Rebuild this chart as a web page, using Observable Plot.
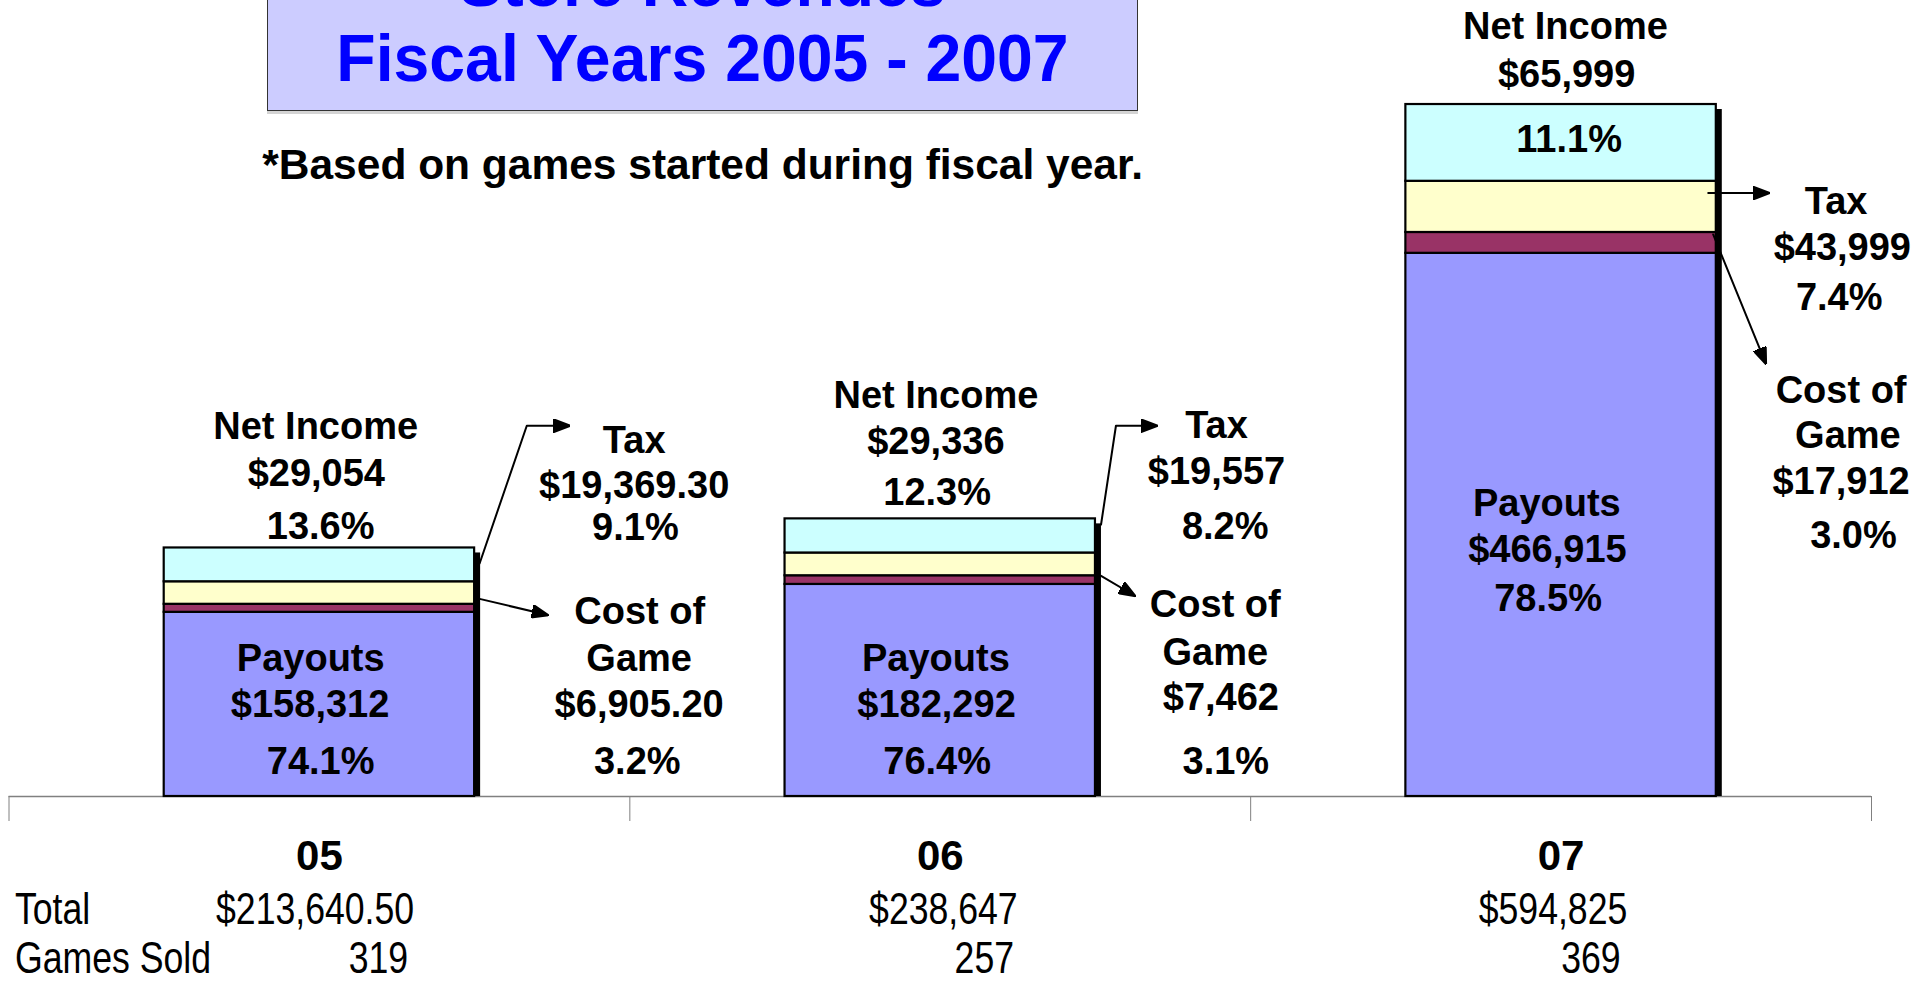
<!DOCTYPE html>
<html>
<head>
<meta charset="utf-8">
<script src="https://cdn.jsdelivr.net/npm/d3@7"></script>
<script src="https://cdn.jsdelivr.net/npm/@observablehq/plot@0.6"></script>
<style>
  html, body { margin: 0; padding: 0; background: #fff; overflow: hidden; }
  #wrap { position: relative; width: 1911px; height: 982px; overflow: hidden; font-family: "Liberation Sans", Arial, sans-serif; }
  #chart { position: absolute; left: 0; top: 0; }
  #titlebox { position: absolute; left: 267px; top: -20px; width: 871px; height: 131px; box-sizing: border-box;
    background: #ccccff; border: 1.5px solid #333; box-shadow: 0 3px 0 #d4d4d4; }
  #title { position: absolute; left: 267px; width: 871px; top: -54px; text-align: center; color: #0000ff;
    font-weight: bold; font-size: 66px; line-height: 75px; transform: scaleX(0.975); transform-origin: 50% 50%; white-space: nowrap; }
  #subtitle { position: absolute; left: 257px; width: 880px; top: 139px; text-align: center; color: #000;
    font-weight: bold; font-size: 43px; line-height: 50px; transform: scaleX(0.988); transform-origin: 50% 50%; white-space: nowrap; }
</style>
</head>
<body>
<div id="wrap">
  <div id="chart"></div>
  <div id="titlebox"></div>
  <div id="title">Store Revenues<br>Fiscal Years 2005 - 2007</div>
  <div id="subtitle">*Based on games started during fiscal year.</div>
</div>
<script>
// ---------- data ----------
const years = ["05", "06", "07"];
const series = ["Payouts", "Cost of Game", "Tax", "Net Income"];
const payouts = [158312, 182292, 466915];
const costOfGame = [6905.20, 7462, 17912];
const tax = [19369.30, 19557, 43999];
const netIncome = [29054, 29336, 65999];
const totals = [213640.50, 238647, 594825];
const gamesSold = [319, 257, 369];
const seriesColors = ["#9999ff", "#993366", "#ffffcc", "#ccffff"];
const rowNames = ["Total", "Games Sold"];

// ---------- annotation layout (data units: x = category index space, y = dollars) ----------
const labelLayout = {
  "05|Net Income":   [[0.494, 317500], [0.495, 277700], [0.502, 231700]],
  "05|Payouts":      [[0.486, 118600], [0.485, 78700], [0.502, 29500]],
  "05|Tax":          [[1.007, 306000], [1.007, 267300], [1.009, 230600]],
  "05|Cost of Game": [[1.016, 158900], [1.015, 118600], [1.015, 78700], [1.012, 29500]],
  "06|Net Income":   [[1.493, 344800], [1.493, 305000], [1.495, 261000]],
  "06|Payouts":      [[1.493, 118600], [1.494, 78700], [1.495, 29500]],
  "06|Tax":          [[1.945, 318700], [1.945, 278800], [1.959, 231700]],
  "06|Cost of Game": [[1.943, 164600], [1.943, 123800], [1.952, 85000], [1.960, 29500]],
  "07|Net Income":   [[2.507, 661200], [2.509, 620400], [2.513, 564800]],
  "07|Payouts":      [[2.477, 251600], [2.478, 211700], [2.479, 169900]],
  "07|Tax":          [[2.943, 511500], [2.953, 471600], [2.948, 428600]],
  "07|Cost of Game": [[2.951, 349000], [2.962, 310300], [2.951, 270400], [2.971, 224400]]
};
const arrowLayout = [
  {id: "05 tax",  pts: [[0.758, 200300], [0.834, 318700], [0.901, 318700]]},
  {id: "05 cost", pts: [[0.758, 169900], [0.866, 156200]]},
  {id: "06 tax",  pts: [[1.759, 233800], [1.783, 318700], [1.847, 318700]]},
  {id: "06 cost", pts: [[1.759, 189700], [1.812, 173000]]},
  {id: "07 tax",  pts: [[2.737, 518700], [2.833, 518700]]},
  {id: "07 cost", pts: [[2.745, 483100], [2.829, 373100]]}
];
const rowOffsets = {total: [-0.007, 0.005, -0.013], games: [0.095, 0.071, 0.048]};

// ---------- derived tables ----------
const seriesValues = [payouts, costOfGame, tax, netIncome];
const rows = years.flatMap((y, i) => series.map((s, k) => ({year: y, yi: i, series: s, value: seriesValues[k][i]})));
const totalRows = years.map((y, i) => ({year: y, yi: i, total: totals[i]}));
const money = v => Number.isInteger(v) ? d3.format("$,.0f")(v) : d3.format("$,.2f")(v);
const pct = d3.format(".1%");
const nameLines = {"Payouts": ["Payouts"], "Cost of Game": ["Cost of", "Game"], "Tax": ["Tax"], "Net Income": ["Net Income"]};
const labelRows = rows.flatMap(r => {
  const lines = [...nameLines[r.series], money(r.value), pct(r.value / totals[r.yi])];
  const lay = labelLayout[`${r.year}|${r.series}`];
  return lines.map((t, k) => ({text: t, x: lay[k][0], y: lay[k][1]}));
});
const arrowPts = arrowLayout.flatMap(a => a.pts.map(p => ({id: a.id, x: p[0], y: p[1]})));
const boundaries = [0, ...years.map((_, i) => i + 1)];
const centers = years.map((_, i) => i + 0.5);

// ---------- layout ----------
const W = 1911, H = 982;
const mL = 8.5, mR = 40, mT = 98, mB = 186;
const plotW = W - mL - mR;
const barInset = plotW / years.length / 4;
const bold = '"Liberation Sans", Arial, sans-serif';
const narrow = '"Liberation Sans Narrow", "Arial Narrow", "Liberation Sans", Arial, sans-serif';
const narrowScale = 0.81;

function triangleMarker(color) {
  const m = d3.create("svg:marker")
    .attr("viewBox", "0 -7 17 14").attr("markerWidth", 17).attr("markerHeight", 14)
    .attr("refX", 15).attr("refY", 0).attr("orient", "auto").attr("markerUnits", "userSpaceOnUse");
  m.append("path").attr("d", "M0,-6.5L17,0L0,6.5Z").attr("fill", color === "currentColor" ? "black" : color);
  return m.node();
}

const narrowText = {fontSize: 44, fontFamily: narrow, fill: "black", lineAnchor: "middle", className: "narrow-row"};

function build(marker) {
  return Plot.plot({
    width: W, height: H,
    marginLeft: mL, marginRight: mR, marginTop: mT, marginBottom: mB,
    style: {fontFamily: bold, background: "white", overflow: "visible"},
    x: {type: "linear", domain: [0, years.length], label: null},
    y: {domain: [0, 600000], axis: null},
    color: {domain: series, range: seriesColors},
    marks: [
      Plot.ruleY([0], {stroke: "#808080", strokeWidth: 1.5}),
      Plot.axisX({ticks: boundaries, tickSize: 25, tickFormat: () => "", stroke: "#808080", strokeWidth: 1}),
      Plot.axisX({ticks: centers, tickSize: 0, tickPadding: 44, tickFormat: d => years[Math.floor(d)],
        fontSize: 42, fontWeight: "bold", fill: "black"}),
      Plot.rectY(totalRows, {x: "yi", interval: 1, y: "total", fill: "black", dx: 6, insetTop: 5,
        insetLeft: barInset, insetRight: barInset}),
      Plot.rectY(rows, {x: "yi", interval: 1, y: "value", fill: "series", order: series,
        stroke: "black", strokeWidth: 2.2, insetLeft: barInset, insetRight: barInset}),
      Plot.line(arrowPts, {x: "x", y: "y", z: "id", stroke: "black", strokeWidth: 2, markerEnd: marker}),
      Plot.text(labelRows, {x: "x", y: "y", text: "text", fontSize: 38, fontWeight: "bold", fill: "black"}),
      Plot.text([rowNames[0]], {frameAnchor: "bottom-left", dx: 6, dy: 113, textAnchor: "start", ...narrowText}),
      Plot.text([rowNames[1]], {frameAnchor: "bottom-left", dx: 6, dy: 162, textAnchor: "start", ...narrowText}),
      Plot.text(totals, {x: (d, i) => centers[i] + rowOffsets.total[i], text: d => money(d),
        frameAnchor: "bottom", dy: 113, ...narrowText}),
      Plot.text(gamesSold, {x: (d, i) => centers[i] + rowOffsets.games[i], text: d => String(d),
        frameAnchor: "bottom", dy: 162, ...narrowText})
    ]
  });
}

let chart;
try { chart = build(triangleMarker); } catch (e) { chart = build("arrow"); }
document.getElementById("chart").appendChild(chart);

// condense the table rows horizontally (Arial Narrow look) when no narrow face is installed
const narrowAvailable = document.fonts && document.fonts.check('44px "Liberation Sans Narrow"') &&
  (() => { const c = document.createElement("canvas").getContext("2d");
    c.font = '44px "Liberation Sans Narrow", monospace'; const a = c.measureText("Games Sold").width;
    c.font = '44px monospace'; return a !== c.measureText("Games Sold").width; })();
if (!narrowAvailable) {
  d3.select(chart).selectAll("g").filter(function() {
    const f = this.getAttribute("font-family"); const cls = this.getAttribute("class") || "";
    return (f && f.includes("Narrow")) || cls.includes("narrow-row");
  }).selectAll("text").each(function() {
    const t = this.getAttribute("transform");
    if (t) this.setAttribute("transform", `${t} scale(${narrowScale},1)`);
    else {
      const x = +this.getAttribute("x") || 0, y = +this.getAttribute("y") || 0;
      this.removeAttribute("x"); this.removeAttribute("y");
      this.setAttribute("transform", `translate(${x},${y}) scale(${narrowScale},1)`);
    }
  });
}
</script>
</body>
</html>
